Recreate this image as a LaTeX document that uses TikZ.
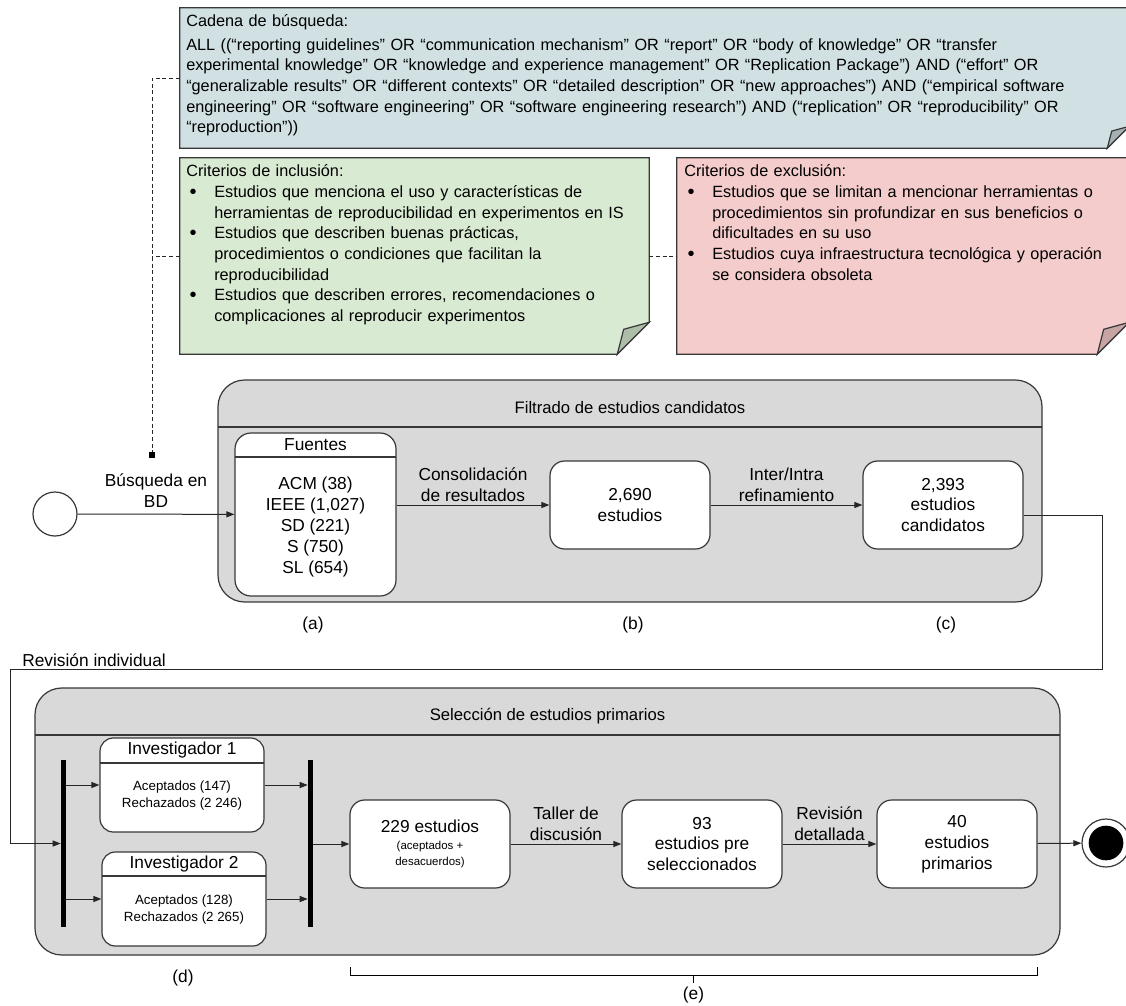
\documentclass[tikz,border=0pt]{standalone}
\usepackage{fontspec}
\setmainfont{Liberation Sans}
\usepackage{tikz}
\usepackage{xcolor}
\usetikzlibrary{positioning, arrows.meta, fit}

\definecolor{notaazul}{HTML}{D0E0E3}
\definecolor{pliegueazul}{HTML}{A3B1B4}
\definecolor{notaverde}{HTML}{D9EAD3}
\definecolor{riegoverde}{HTML}{AEBDA8}
\definecolor{notaroja}{HTML}{F4CCCC}
\definecolor{plieguerojo}{HTML}{C6A4A4}
\definecolor{panelgris}{HTML}{D9D9D9}

\newcommand{\letrachica}{\fontsize{8.6}{10}\selectfont}
% bullet line with hanging indent (lines split with \newline)
\newcommand{\vineta}[1]{\par\noindent\hangindent=21pt\hangafter=1\makebox[21pt][l]{\hspace*{2.5pt}\raisebox{-0.6pt}{\fontsize{15}{15}\selectfont\textbullet}}#1\par}
% note outline with folded corner: name, fill, fold colour, fold size
\newcommand{\nota}[4]{%
  \filldraw[fill=#2, borde] (#1.north west) -- (#1.north east) -- ([yshift=#4]#1.south east)
    -- ([xshift=-#4]#1.south east) -- (#1.south west) -- cycle;
  \filldraw[fill=#3, borde] ([xshift=-#4]#1.south east) -- ([yshift=#4]#1.south east)
    -- ([xshift=-0.8*#4, yshift=0.78*#4]#1.south east) -- cycle;}

\begin{document}
\begin{tikzpicture}[x=0.75pt, y=-0.75pt,
  every node/.style={font=\fontsize{13}{15.6}\selectfont},
  borde/.style={draw=black!78, line width=0.9pt},
  marco/.style={borde, fill=panelgris, rounded corners=20pt, inner sep=0pt},
  caja/.style={borde, fill=white, rounded corners=11pt, inner sep=0pt, align=center,
    minimum width=120pt, minimum height=66pt},
  hueco/.style={inner sep=0pt},
  barra/.style={fill=black, inner sep=0pt},
  flecha/.style={draw=black!85, line width=0.75pt, -{Triangle[length=6pt, width=4.5pt]}},
  etiq/.style={align=center, inner sep=2pt},
  nexo/.style={draw=black!85, line width=0.6pt, dash pattern=on 3pt off 2pt},
  txtnota/.style={anchor=base west, align=left, inner sep=0pt, font=\fontsize{12.2}{15.5}\selectfont},
  titulo/.style={font=\fontsize{12.5}{15}\selectfont},
  chica/.style={font=\fontsize{10}{12.7}\selectfont, align=center}]

  \clip (0,0) rectangle (1126,1005);
  \fill[white] (0,0) rectangle (1126,1005);

  % Notes
  \node[hueco, fit={(180,8) (1129,148)}] (busq) {};
  \nota{busq}{notaazul}{pliegueazul}{16.5pt}
  \node[txtnota, text width=720pt] (busqtxt) at (186,27) {Cadena de búsqueda:\\[2pt]
    ALL ((“reporting guidelines” OR “communication mechanism” OR “report” OR “body of knowledge” OR “transfer\\
    experimental knowledge” OR “knowledge and experience management” OR “Replication Package”) AND (“effort” OR\\
    “generalizable results” OR “different contexts” OR “detailed description” OR “new approaches”) AND (“empirical software\\
    engineering” OR “software engineering” OR “software engineering research”) AND (“replication” OR “reproducibility” OR\\
    “reproduction”))};

  \node[hueco, fit={(180,158) (649,354)}] (incl) {};
  \nota{incl}{notaverde}{riegoverde}{24pt}
  \node[txtnota, text width=380pt] (incltxt) at (186,177) {Criterios de inclusión:
    \vineta{Estudios que menciona el uso y características de\newline herramientas de reproducibilidad en experimentos en IS}
    \vineta{Estudios que describen buenas prácticas,\newline procedimientos o condiciones que facilitan la\newline reproducibilidad}
    \vineta{Estudios que describen errores, recomendaciones o\newline complicaciones al reproducir experimentos}};

  \node[hueco, fit={(677,158) (1129,354)}] (excl) {};
  \nota{excl}{notaroja}{plieguerojo}{24pt}
  \node[txtnota, text width=380pt] (excltxt) at (684,177) {Criterios de exclusión:
    \vineta{Estudios que se limitan a mencionar herramientas o\newline procedimientos sin profundizar en sus beneficios o\newline dificultades en su uso}
    \vineta{Estudios cuya infraestructura tecnológica y operación\newline se considera obsoleta}};

  \node[barra, minimum size=4.5pt] (ancla) at (152,455) {};
  \draw[nexo] (busq.west) -| (ancla);
  \draw[nexo] (incl.west) -- (incl.west -| ancla);
  \draw[nexo] (incl.east) -- (excl.west);

  % Filtrado de estudios candidatos
  \node[marco, fit={(218,380) (1042,602)}] (filtrado) {};
  \draw[borde] (218,427) -- (1042,427);
  \node[titulo] (tfiltrado) at (630,408) {Filtrado de estudios candidatos};

  \node[borde, fill=white, rounded corners=12pt, inner sep=0pt, fit={(235,433) (396,596)}] (fuentes) {};
  \draw[borde] (235,457) -- (396,457);
  \node (tfuentes) at (315.5,445) {Fuentes};
  \node[align=center] (listafuentes) at (315.5,527) {ACM (38)\\IEEE (1,027)\\SD (221)\\S (750)\\SL (654)};

  \node[caja] (estb) at (630,505) {2,690\\estudios};
  \node[caja] (estc) at (943,505) {2,393\\estudios\\candidatos};

  \node[circle, borde, fill=white, minimum size=33pt, inner sep=0pt] (inicio) at (55,514) {};

  \node (la) at (313,625) {(a)};
  \node (lb) at (633,625) {(b)};
  \node (lc) at (946,625) {(c)};

  % Selección de estudios primarios
  \node[marco, fit={(35,688) (1060,955)}] (seleccion) {};
  \draw[borde] (35,735) -- (1060,735);
  \node[titulo] (tseleccion) at (547.5,716) {Selección de estudios primarios};

  \node[barra, fit={(61,760) (66,927)}] (fork) {};
  \node[barra, fit={(308,760) (313,927)}] (join) {};

  \node[borde, fill=white, rounded corners=10pt, inner sep=0pt, fit={(100,738) (264,832)}] (inv1) {};
  \draw[borde] (100,763) -- (264,763);
  \node (tinv1) at (182,750) {Investigador 1};
  \node[chica] (dinv1) at (182,796) {Aceptados (147)\\Rechazados (2 246)};

  \node[borde, fill=white, rounded corners=10pt, inner sep=0pt, fit={(102,852) (266,946)}] (inv2) {};
  \draw[borde] (102,876) -- (266,876);
  \node (tinv2) at (184,864) {Investigador 2};
  \node[chica] (dinv2) at (184,910) {Aceptados (128)\\Rechazados (2 265)};

  \node[caja] (e229) at (430,844) {229 estudios\\[-3pt]{\letrachica (aceptados +}\\[-3pt]{\letrachica desacuerdos)}};
  \node[caja] (e93) at (702,844) {93\\estudios pre\\seleccionados};
  \node[caja] (e40) at (957,844) {40\\estudios\\primarios};

  \node[circle, borde, fill=white, minimum size=36pt, inner sep=0pt] (fin) at (1106,843) {};
  \fill (fin) circle[radius=13pt];

  \node (ld) at (183,978) {(d)};
  \draw[line width=0.75pt] (350,967) -- (350,975) -- (1037,975) -- (1037,967);
  \draw[line width=0.75pt] (693.5,975) -- (693.5,983);
  \node (le) at (693.5,995) {(e)};

  % Arrows
  \draw[flecha] (inicio) -- node[etiq, above=3pt] {Búsqueda en\\BD} (fuentes);
  \draw[flecha] (fuentes.east |- estb) -- node[etiq, above] {Consolidación\\de resultados} (estb);
  \draw[flecha] (estb) -- node[etiq, above] {Inter/Intra\\refinamiento} (estc);

  \coordinate (giro1) at (1102,669);
  \coordinate (giro2) at (10,669);
  \draw[flecha] ([yshift=-7.5pt]estc.east) -| (giro1) -- (giro2) |- (fork.west);
  \node[anchor=base west, inner sep=0pt] (revind) at (22,666) {Revisión individual};

  \draw[flecha] (fork.east |- inv1) -- (inv1);
  \draw[flecha] (fork.east |- inv2) -- (inv2);
  \draw[flecha] (inv1) -- (inv1 -| join.west);
  \draw[flecha] (inv2) -- (inv2 -| join.west);
  \draw[flecha] (join.east |- e229) -- (e229);
  \draw[flecha] (e229) -- node[etiq, above] {Taller de\\discusión} (e93);
  \draw[flecha] (e93) -- node[etiq, above] {Revisión\\detallada} (e40);
  \draw[flecha] (e40) -- (fin);
\end{tikzpicture}
\end{document}
